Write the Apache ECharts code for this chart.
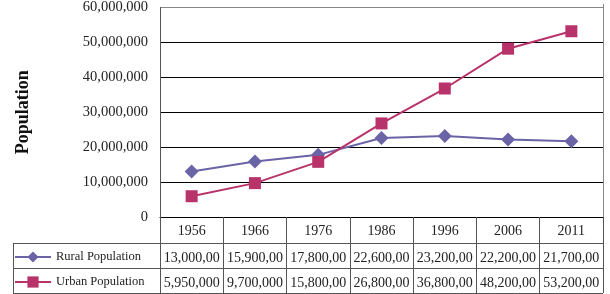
<!DOCTYPE html>
<html>
<head>
<meta charset="utf-8">
<script src="https://cdn.jsdelivr.net/npm/echarts@6/dist/echarts.min.js"></script>
<style>
  html, body { margin: 0; padding: 0; background: #fff; }
  #chart { width: 610px; height: 294px; }
</style>
</head>
<body>
<div id="chart"></div>
<script>
(function () {
  'use strict';

  var years = ['1956', '1966', '1976', '1986', '1996', '2006', '2011'];
  var rural = [13000000, 15900000, 17800000, 22600000, 23200000, 22200000, 21700000];
  var urban = [5950000, 9700000, 15800000, 26800000, 36800000, 48200000, 53200000];
  var yTicks = [0, 10000000, 20000000, 30000000, 40000000, 50000000, 60000000];

  var serif = '"Liberation Serif", "DejaVu Serif", serif';
  var ruralColor = '#6a64a7';
  var urbanColor = '#b8336a';
  var tableLine = '#555';

  function fmt(v) {
    return Number(v).toLocaleString('en-US');
  }

  // extra bottom axes act as the data table rows
  function tableRow(values, offset) {
    return {
      type: 'category',
      position: 'bottom',
      offset: offset,
      data: values.map(fmt),
      axisLine: { show: false },
      axisTick: { show: false },
      axisLabel: {
        interval: 0,
        margin: 8,
        fontFamily: serif,
        fontSize: 14,
        color: '#222',
        width: 62,
        overflow: 'truncate',
        ellipsis: ''
      }
    };
  }

  function hline(x1, x2, y) {
    return {
      type: 'line',
      shape: { x1: x1, y1: y, x2: x2, y2: y },
      style: { stroke: tableLine, lineWidth: 1 },
      silent: true
    };
  }

  var myChart = echarts.init(document.getElementById('chart'));

  myChart.setOption({
    animation: false,
    grid: { left: 160, right: 7, top: 4, bottom: 77 },
    legend: {
      orient: 'vertical',
      left: 14,
      top: 250,
      padding: 0,
      itemWidth: 36,
      itemHeight: 14,
      itemGap: 11,
      textStyle: { fontFamily: serif, fontSize: 12.5, color: '#222', lineHeight: 14 },
      data: ['Rural Population', 'Urban Population']
    },
    xAxis: [
      {
        type: 'category',
        data: years,
        axisLine: { lineStyle: { color: '#000', width: 1 } },
        axisTick: { show: true, interval: 0, length: 76, lineStyle: { color: tableLine } },
        axisLabel: { interval: 0, margin: 7, fontFamily: serif, fontSize: 14, color: '#222' }
      },
      tableRow(rural, 26),
      tableRow(urban, 51)
    ],
    yAxis: {
      type: 'value',
      min: yTicks[0],
      max: yTicks[yTicks.length - 1],
      interval: 10000000,
      name: 'Population',
      nameLocation: 'middle',
      nameGap: 128,
      nameRotate: 90,
      nameTextStyle: { fontFamily: serif, fontSize: 18, fontWeight: 'bold', color: '#111' },
      axisLine: { show: true, lineStyle: { color: tableLine } },
      axisTick: { show: false },
      axisLabel: {
        margin: 12,
        fontFamily: serif,
        fontSize: 14.5,
        color: '#222',
        formatter: fmt
      },
      splitLine: {
        lineStyle: { color: ['#000', '#000', '#000', '#000', '#000', '#000', '#888'], width: 1 }
      }
    },
    series: [
      {
        name: 'Rural Population',
        type: 'line',
        data: rural,
        symbol: 'diamond',
        symbolSize: 14,
        color: ruralColor,
        lineStyle: { width: 2, color: ruralColor },
        itemStyle: { color: ruralColor }
      },
      {
        name: 'Urban Population',
        type: 'line',
        data: urban,
        symbol: 'rect',
        symbolSize: 12,
        color: urbanColor,
        lineStyle: { width: 2, color: urbanColor },
        itemStyle: { color: urbanColor }
      }
    ],
    graphic: [
      hline(13, 603, 243.5),
      hline(13, 603, 268.5),
      hline(13, 603, 293.5),
      {
        type: 'line',
        shape: { x1: 13.5, y1: 243, x2: 13.5, y2: 294 },
        style: { stroke: tableLine, lineWidth: 1 },
        silent: true
      },
      {
        type: 'line',
        shape: { x1: 603.5, y1: 4, x2: 603.5, y2: 217 },
        style: { stroke: '#888', lineWidth: 1 },
        silent: true
      }
    ]
  });
})();
</script>
</body>
</html>
